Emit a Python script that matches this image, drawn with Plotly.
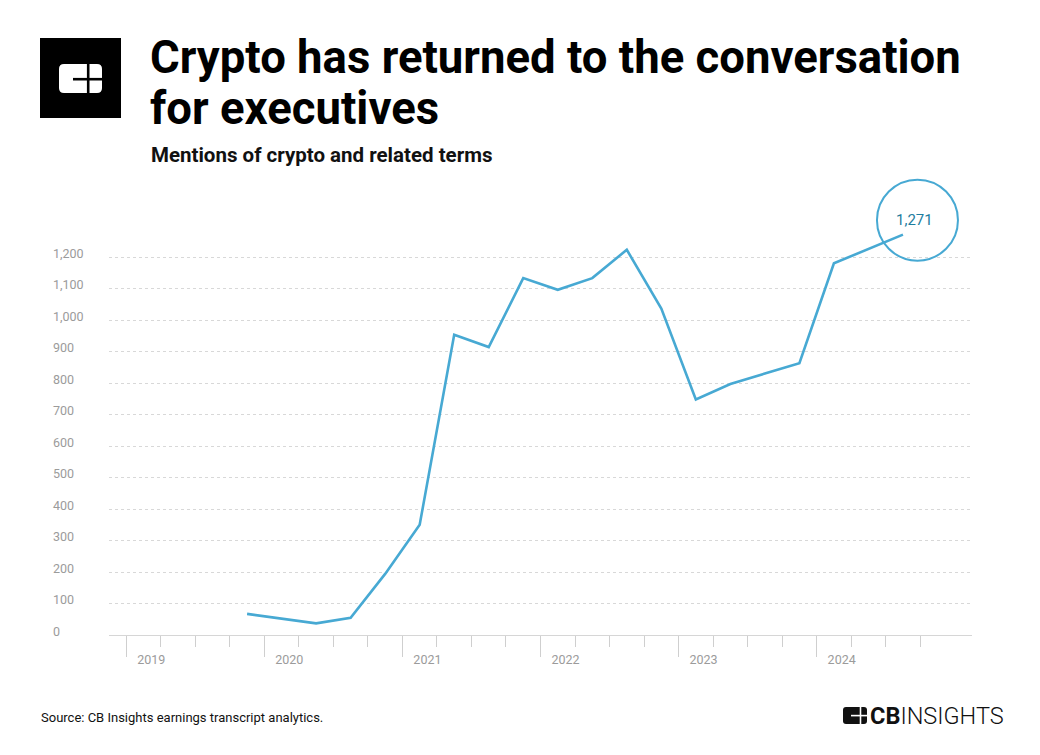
import plotly.graph_objects as go

# ---- data ----
quarters = ["Q4 2019", "Q1 2020", "Q2 2020", "Q3 2020", "Q4 2020",
            "Q1 2021", "Q2 2021", "Q3 2021", "Q4 2021",
            "Q1 2022", "Q2 2022", "Q3 2022", "Q4 2022",
            "Q1 2023", "Q2 2023", "Q3 2023", "Q4 2023",
            "Q1 2024", "Q2 2024", "Q3 2024"]
mentions = [67, 52, 37, 55, 194, 350, 953, 914, 1133, 1096, 1133, 1223,
            1036, 748, 797, 830, 863, 1180, 1225, 1271]
year_labels = ["2019", "2020", "2021", "2022", "2023", "2024"]
y_ticks = [0, 100, 200, 300, 400, 500, 600, 700, 800, 900, 1000, 1100, 1200]

# quarter index position (0 = start of 2019), points at mid-quarter
def qpos(q):
    qq, yy = q.split()
    return (int(yy) - 2019) * 4 + (int(qq[1]) - 1) + 0.5

xs = [qpos(q) for q in quarters]
year_pos = [(int(y) - 2019) * 4 for y in year_labels]
minor_pos = [i for i in range(0, 24) if i % 4 != 0]

W, H = 1040, 755
L, R, T, B = 109, 68, 170, 120
PW, PH = W - L - R, H - T - B

def px(x):
    return (x - L) / PW

def py(y):
    return (H - B - y) / PH

LINE = "#47a9d3"
GRAY = "#9b9b9b"

fig = go.Figure()
fig.add_trace(go.Scatter(x=xs, y=mentions, mode="lines",
                         line=dict(color=LINE, width=2.6),
                         hoverinfo="skip", showlegend=False))

fig.update_layout(
    width=W, height=H,
    margin=dict(l=L, r=R, t=T, b=B),
    paper_bgcolor="white", plot_bgcolor="white",
    font=dict(family="Roboto", color=GRAY),
    xaxis=dict(range=[-0.5, 24.5], showgrid=False, zeroline=False,
               showline=True, linecolor="#d6d6d6", linewidth=1,
               tickmode="array", tickvals=year_pos, ticktext=year_labels,
               ticks="outside", ticklen=21, tickcolor="#cfcfcf", tickwidth=1,
               tickfont=dict(size=12.5, color=GRAY, family="Roboto"),
               ticklabelshift=25, ticklabelstandoff=-8,
               minor=dict(tickmode="array", tickvals=minor_pos, ticks="outside",
                          ticklen=11, tickcolor="#cfcfcf", tickwidth=1, showgrid=False),
               fixedrange=True),
    yaxis=dict(range=[0, PH / 0.315], showticklabels=False, zeroline=False,
               tickmode="array", tickvals=y_ticks[1:],
               showgrid=True, gridcolor="#d8d8d8", griddash="dot", gridwidth=1,
               fixedrange=True),
)

annotations = []
# y tick labels, left-aligned above gridlines
for v in y_ticks:
    annotations.append(dict(x=px(51), xref="paper", y=v, yref="y",
                            text=f"{v:,}", showarrow=False, xanchor="left",
                            yanchor="middle", yshift=4,
                            font=dict(size=12.5, color=GRAY, family="Roboto")))
# value label
annotations.append(dict(x=xs[-1], y=mentions[-1], xref="x", yref="y",
                        text=f"{mentions[-1]:,}", showarrow=False,
                        xshift=12, yshift=15, xanchor="center", yanchor="middle",
                        font=dict(size=15, color="#1e7d9e", family="Roboto")))
# title, subtitle, source
for txt, yc in [("Crypto has returned to the conversation", 57), ("for executives", 108)]:
    annotations.append(dict(x=px(148), y=py(yc), xref="paper", yref="paper",
                            text=f"<b>{txt}</b>",
                            showarrow=False, xanchor="left", yanchor="middle", align="left",
                            font=dict(size=45.5, color="#000000", family="Roboto")))
annotations.append(dict(x=px(149), y=py(155), xref="paper", yref="paper",
                        text="<b>Mentions of crypto and related terms</b>",
                        showarrow=False, xanchor="left", yanchor="middle",
                        font=dict(size=20.5, color="#111111", family="Roboto")))
annotations.append(dict(x=px(39), y=py(717), xref="paper", yref="paper",
                        text="Source: CB Insights earnings transcript analytics.",
                        showarrow=False, xanchor="left", yanchor="middle",
                        font=dict(size=13, color="#111111", family="Roboto")))
annotations.append(dict(x=px(868), y=py(716), xref="paper", yref="paper",
                        text="<b>CB</b><span style='font-weight:300'>INSIGHTS</span>",
                        showarrow=False, xanchor="left", yanchor="middle",
                        font=dict(size=23.5, color="#111111", family="Roboto")))
fig.update_layout(annotations=annotations)

shapes = []
# circle around last value
shapes.append(dict(type="circle", xref="x", yref="y",
                   xsizemode="pixel", ysizemode="pixel",
                   xanchor=xs[-1], yanchor=mentions[-1],
                   x0=-26, x1=55, y0=-26, y1=55,
                   line=dict(color=LINE, width=2), fillcolor="rgba(0,0,0,0)"))

def rect(x0, y0, x1, y1, color):
    return dict(type="rect", xref="paper", yref="paper",
                x0=px(x0), x1=px(x1), y0=py(y1), y1=py(y0),
                line=dict(width=0), fillcolor=color, layer="above")

def rrect_path(x0, y0, x1, y1, r):
    def P(x, y):
        return f"{px(x)},{py(y)}"
    return ("M " + P(x0 + r, y0) + " L " + P(x1 - r, y0) + " Q " + P(x1, y0) + " " + P(x1, y0 + r) +
            " L " + P(x1, y1 - r) + " Q " + P(x1, y1) + " " + P(x1 - r, y1) +
            " L " + P(x0 + r, y1) + " Q " + P(x0, y1) + " " + P(x0, y1 - r) +
            " L " + P(x0, y0 + r) + " Q " + P(x0, y0) + " " + P(x0 + r, y0) + " Z")

def logo(x0, y0, x1, y1, vx, hy, hx0, bar, r, bg, fg):
    out = []
    out.append(dict(type="path", xref="paper", yref="paper",
                    path=rrect_path(x0, y0, x1, y1, r),
                    line=dict(width=0), fillcolor=fg, layer="above"))
    out.append(rect(vx - bar / 2, y0 - 0.5, vx + bar / 2, y1 + 0.5, bg))
    out.append(rect(hx0, hy - bar / 2, x1 + 0.5, hy + bar / 2, bg))
    return out

# top-left logo box
shapes.append(rect(40, 38, 121, 118, "#000000"))
shapes += logo(59, 64, 102, 93, 88.2, 79.2, 73, 2.6, 5, "#000000", "#ffffff")
# bottom-right small logo
shapes += logo(843, 707, 867, 724, 860.5, 715.6, 851, 1.6, 3, "#ffffff", "#111111")

fig.update_layout(shapes=shapes, hovermode=False)

fig.write_html("out.html", config={"displayModeBar": False},
               post_script="document.body.style.margin='0px';document.body.style.overflow='hidden';")
